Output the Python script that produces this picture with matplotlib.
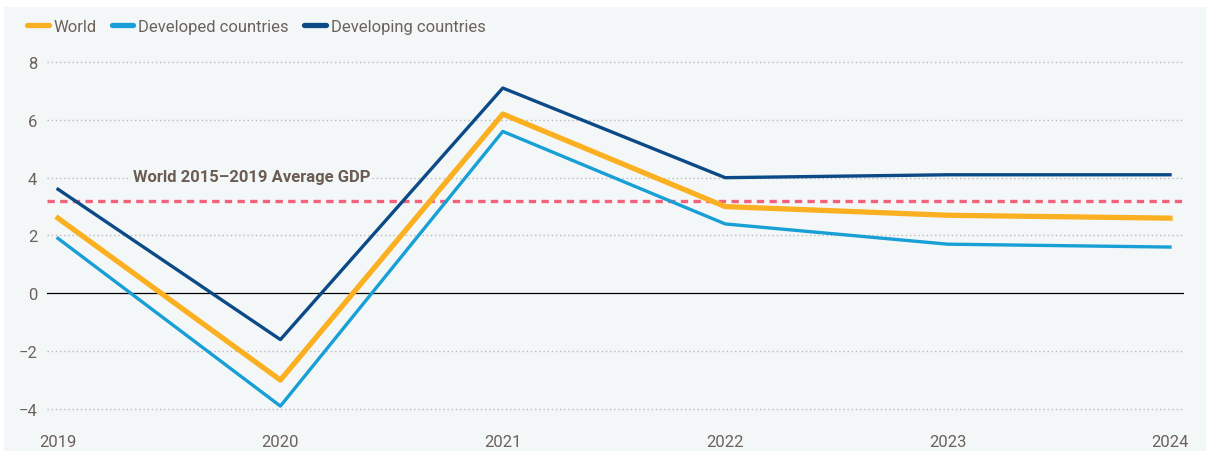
import matplotlib.pyplot as plt
from matplotlib.patches import Rectangle

years = [2019, 2020, 2021, 2022, 2023, 2024]
world = [2.6, -3.0, 6.2, 3.0, 2.7, 2.6]
developed = [1.9, -3.9, 5.6, 2.4, 1.7, 1.6]
developing = [3.6, -1.6, 7.1, 4.0, 4.1, 4.1]
avg_2015_2019 = 3.2
yticks = [-4, -2, 0, 2, 4, 6, 8]
ytick_labels = ['\u22124', '\u22122', '0', '2', '4', '6', '8']

bg = '#f4f7f8'
txt = '#6b625c'

plt.rcParams['font.family'] = ['Roboto', 'DejaVu Sans']

W, H = 1206, 452
fig = plt.figure(figsize=(W / 100, H / 100), dpi=100, facecolor='white')
bgrect = Rectangle((4 / W, 0), 1, 1 - 8 / H, transform=fig.transFigure,
                   facecolor=bg, edgecolor='none', zorder=-10)
fig.add_artist(bgrect)

ax = fig.add_axes([47 / W, 1 - 420 / H, (1184 - 47) / W, (420 - 55) / H])
ax.set_facecolor('none')
ax.set_xlim(2019 - 11 / 222.4, 2024 + 14 / 222.4)
ax.set_ylim(-4 - 10 / 28.9, 8 + 8 / 28.9)
for s in ax.spines.values():
    s.set_visible(False)

ax.set_yticks(yticks)
ax.set_yticklabels(ytick_labels)
ax.set_xticks(years)
ax.tick_params(length=0, labelsize=12, colors=txt)
ax.tick_params(axis='y', pad=7)
ax.tick_params(axis='x', pad=11)

for y in yticks:
    if y != 0:
        ax.axhline(y, color='#b9b9b9', lw=1, ls=(0, (1, 2)), zorder=1)
ax.axhline(0, color='black', lw=0.9, zorder=1)

ax.axhline(avg_2015_2019, color='#f2627a', lw=2.4, ls=(0, (2.2, 1.6)), zorder=2)
ax.text(2019.335, 4.05, 'World 2015\u20132019 Average GDP', fontsize=12, fontweight='bold',
        color='#6b5d53', va='center', ha='left', zorder=3,
        bbox=dict(facecolor=bg, edgecolor='none', pad=1))

ax.plot(years, developed, color='#179fd6', lw=2.4, zorder=4, label='Developed countries')
ax.plot(years, world, color='#fbb022', lw=3.8, zorder=5, label='World')
ax.plot(years, developing, color='#0b4a86', lw=2.4, zorder=6, label='Developing countries')

h, l = ax.get_legend_handles_labels()
order = [1, 0, 2]
leg = fig.legend([h[i] for i in order], [l[i] for i in order], loc='upper left',
                 bbox_to_anchor=(12 / W, 1 - 5 / H), ncol=3, frameon=False,
                 fontsize=12, handlelength=1.3, handletextpad=0.3, columnspacing=0.9,
                 labelcolor=txt)
for line in leg.get_lines():
    line.set_linewidth(3.8)
    line.set_solid_capstyle('round')

fig.savefig('out.png', dpi=100, facecolor='white')
